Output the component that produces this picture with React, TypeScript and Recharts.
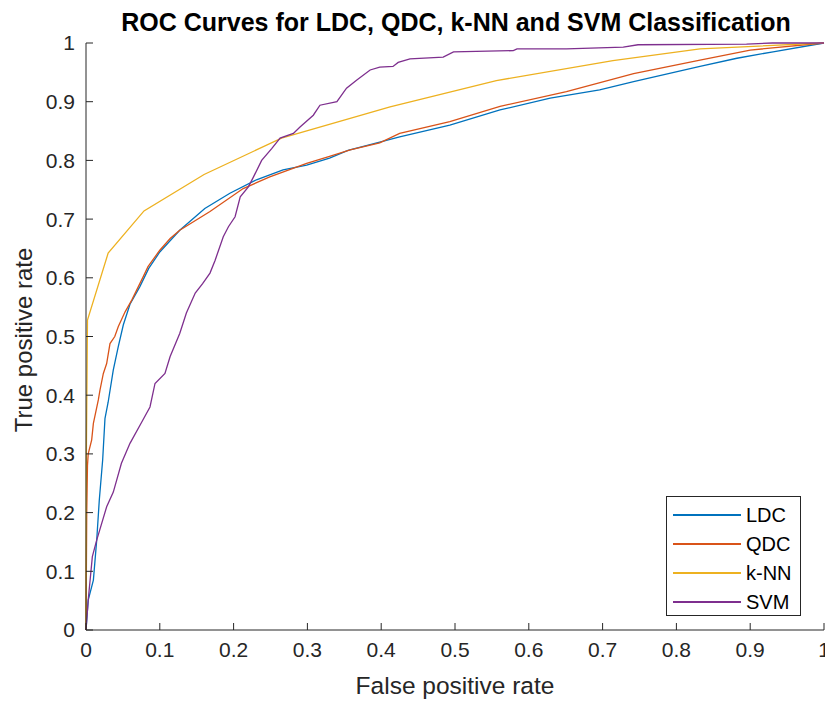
import { LineChart, Line, XAxis, YAxis, Legend } from 'recharts'

const FONT = "'Liberation Sans', Arial, Helvetica, sans-serif"
const AXIS = '#262626'

const ticks = [0, 0.1, 0.2, 0.3, 0.4, 0.5, 0.6, 0.7, 0.8, 0.9, 1]

// traced ROC points (false positive rate / true positive rate)
const ldcFpr = [0, 0.003, 0.01, 0.0145, 0.018, 0.0226, 0.0257, 0.03, 0.037, 0.0438, 0.0506, 0.0596, 0.073, 0.085, 0.1, 0.127, 0.161, 0.195, 0.231, 0.267, 0.299, 0.33, 0.355, 0.398, 0.425, 0.493, 0.561, 0.629, 0.696, 0.742, 0.832, 0.882, 0.931, 1]
const ldcTpr = [0, 0.051, 0.085, 0.153, 0.221, 0.29, 0.36, 0.388, 0.443, 0.483, 0.52, 0.555, 0.585, 0.616, 0.644, 0.681, 0.718, 0.744, 0.767, 0.784, 0.792, 0.804, 0.817, 0.831, 0.84, 0.86, 0.886, 0.906, 0.92, 0.934, 0.96, 0.974, 0.985, 1]

const qdcFpr = [0, 0.001, 0.002, 0.003, 0.0077, 0.01, 0.0167, 0.019, 0.0235, 0.028, 0.0325, 0.039, 0.0438, 0.053, 0.062, 0.0776, 0.084, 0.1, 0.114, 0.127, 0.168, 0.213, 0.249, 0.299, 0.33, 0.358, 0.398, 0.425, 0.493, 0.561, 0.651, 0.742, 0.832, 0.9, 1]
const qdcTpr = [0, 0.2, 0.28, 0.3, 0.324, 0.352, 0.392, 0.409, 0.437, 0.454, 0.488, 0.5, 0.517, 0.542, 0.562, 0.602, 0.619, 0.647, 0.667, 0.681, 0.713, 0.752, 0.772, 0.795, 0.807, 0.818, 0.83, 0.846, 0.866, 0.892, 0.917, 0.948, 0.971, 0.988, 1]

const knnFpr = [0, 0.0005, 0.002, 0.03, 0.0786, 0.16, 0.265, 0.412, 0.556, 0.714, 0.832, 1]
const knnTpr = [0, 0.3, 0.528, 0.642, 0.714, 0.776, 0.838, 0.891, 0.936, 0.97, 0.99, 1]

const svmFpr = [0, 0.003, 0.0086, 0.0145, 0.028, 0.037, 0.048, 0.0596, 0.0754, 0.0867, 0.0935, 0.107, 0.114, 0.127, 0.136, 0.148, 0.158, 0.168, 0.175, 0.186, 0.193, 0.202, 0.209, 0.22, 0.227, 0.238, 0.2516, 0.263, 0.281, 0.29, 0.308, 0.317, 0.34, 0.353, 0.367, 0.385, 0.398, 0.416, 0.423, 0.439, 0.484, 0.498, 0.579, 0.584, 0.651, 0.728, 0.748, 0.895, 0.93, 1]
const svmTpr = [0, 0.051, 0.125, 0.153, 0.21, 0.235, 0.284, 0.318, 0.354, 0.38, 0.42, 0.437, 0.466, 0.505, 0.54, 0.574, 0.59, 0.608, 0.63, 0.67, 0.687, 0.704, 0.738, 0.755, 0.772, 0.8, 0.82, 0.838, 0.846, 0.857, 0.877, 0.894, 0.9, 0.923, 0.937, 0.954, 0.959, 0.96, 0.967, 0.973, 0.976, 0.985, 0.987, 0.99, 0.99, 0.993, 0.997, 0.998, 1, 1]

const series = [
  { name: 'LDC', color: '#0072BD', fpr: ldcFpr, tpr: ldcTpr },
  { name: 'QDC', color: '#D95319', fpr: qdcFpr, tpr: qdcTpr },
  { name: 'k-NN', color: '#EDB120', fpr: knnFpr, tpr: knnTpr },
  { name: 'SVM', color: '#7E2F8E', fpr: svmFpr, tpr: svmTpr },
]

const toPoints = (xs: number[], ys: number[]) => xs.map((x, i) => ({ x, y: ys[i] }))

const fmt = (v: number) => String(+v.toFixed(1))

function LegendBox() {
  return (
    <div
      style={{
        width: 133,
        height: 118,
        border: `1px solid ${AXIS}`,
        background: '#fff',
        position: 'relative',
        fontFamily: FONT,
      }}
    >
      {series.map((s, i) => (
        <div
          key={s.name}
          style={{
            position: 'absolute',
            left: 0,
            top: 3.5 + i * 29,
            height: 29,
            display: 'flex',
            alignItems: 'center',
          }}
        >
          <div style={{ marginLeft: 6, width: 68, height: 1.4, background: s.color }} />
          <span style={{ marginLeft: 5, fontSize: 20, color: '#000', lineHeight: '29px' }}>{s.name}</span>
        </div>
      ))}
    </div>
  )
}

export default function App() {
  return (
    <div
      style={{
        position: 'absolute',
        left: 0,
        top: 0,
        width: 825,
        height: 701,
        overflow: 'hidden',
        background: '#fff',
      }}
    >
      <LineChart
        width={860}
        height={701}
        margin={{ top: 43, right: 36, bottom: 11, left: 26 }}
        style={{ fontFamily: FONT }}
      >
        <XAxis
          type="number"
          dataKey="x"
          domain={[0, 1]}
          ticks={ticks}
          tickFormatter={fmt}
          height={60}
          stroke={AXIS}
          tickSize={-7}
          tickMargin={19}
          tick={{ fontSize: 21, fill: AXIS }}
          allowDuplicatedCategory={false}
        />
        <YAxis
          type="number"
          dataKey="y"
          domain={[0, 1]}
          ticks={ticks}
          tickFormatter={fmt}
          width={60}
          stroke={AXIS}
          tickSize={-7}
          tickMargin={18}
          tick={{ fontSize: 21, fill: AXIS }}
        />
        <Legend
          layout="vertical"
          align="center"
          verticalAlign="middle"
          content={() => <LegendBox />}
          wrapperStyle={{ position: 'absolute', left: 666, top: 496, width: 135, height: 120 }}
        />
        {series.map((s) => (
          <Line
            key={s.name}
            name={s.name}
            data={toPoints(s.fpr, s.tpr)}
            dataKey="y"
            type="linear"
            stroke={s.color}
            strokeWidth={1.3}
            dot={false}
            activeDot={false}
            isAnimationActive={false}
          />
        ))}
      </LineChart>
      <svg
        width={825}
        height={701}
        style={{ position: 'absolute', left: 0, top: 0, pointerEvents: 'none', fontFamily: FONT }}
      >
        <text x={456} y={31} textAnchor="middle" fontSize={25} fontWeight="bold" fill="#000">
          ROC Curves for LDC, QDC, k-NN and SVM Classification
        </text>
        <text x={455} y={694} textAnchor="middle" fontSize={24.5} fill={AXIS}>
          False positive rate
        </text>
        <text
          x={0}
          y={0}
          transform="translate(32 340) rotate(-90)"
          textAnchor="middle"
          fontSize={24}
          fill={AXIS}
        >
          True positive rate
        </text>
      </svg>
    </div>
  )
}
